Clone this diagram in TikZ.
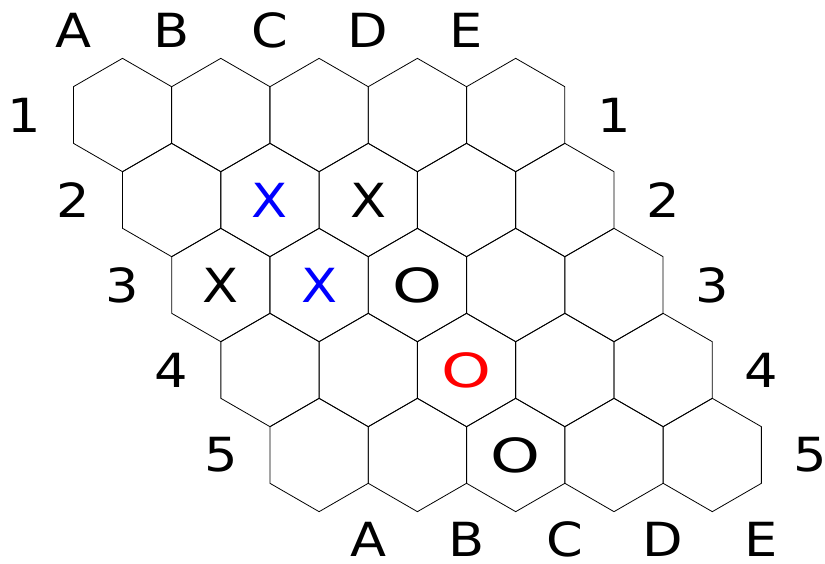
\documentclass[tikz,border=0pt]{standalone}
\usepackage{fontspec}
\setmainfont[FakeStretch=1.12]{DejaVu Sans}
\newfontfamily\widefont[FakeStretch=1.35]{DejaVu Sans}
\usetikzlibrary{shapes.geometric}
\begin{document}
\begin{tikzpicture}[x=1pt,y=-1pt,
  hexcell/.style={regular polygon, regular polygon sides=6, shape border rotate=30,
    minimum size=113.33pt, inner sep=0pt, outer sep=0pt, draw=black, line width=0.8pt},
  lbl/.style={font=\fontsize{47}{50}\selectfont, inner sep=0pt, text=black},
  markx/.style={lbl},
  marko/.style={lbl, font=\widefont\fontsize{47}{50}\selectfont}]
\useasboundingbox (0,0) rectangle (825,563);
% board
\foreach \r in {0,...,4} {
  \foreach \c in {0,...,4} {
    \node[hexcell] (h\c\r) at ({122.5+98.3*\c+49.15*\r},{115+85*\r}) {};
  }
}
% column letters
\foreach \c/\t in {0/A,1/B,2/C,3/D,4/E} {
  \node[lbl] (top\t) at ({73.3+98.3*\c},30) {\t};
  \node[lbl] (bot\t) at ({368.25+98.3*\c},539) {\t};
}
% row numbers
\foreach \r in {0,...,4} {
  \pgfmathtruncatemacro{\n}{\r+1}
  \node[lbl] (left\n) at ({24.2+49.15*\r},{115+85*\r}) {\n};
  \node[lbl] (right\n) at ({614+49.15*\r},{115+85*\r}) {\n};
}
% stones
\node[markx, text=blue] (mB2) at (h11) {X};
\node[markx] (mC2) at (h21) {X};
\node[markx] (mA3) at (h02) {X};
\node[markx, text=blue] (mB3) at (h12) {X};
\node[marko] (mC3) at (h22) {O};
\node[marko, text=red] (mC4) at (h23) {O};
\node[marko] (mC5) at (h24) {O};
\end{tikzpicture}
\end{document}
